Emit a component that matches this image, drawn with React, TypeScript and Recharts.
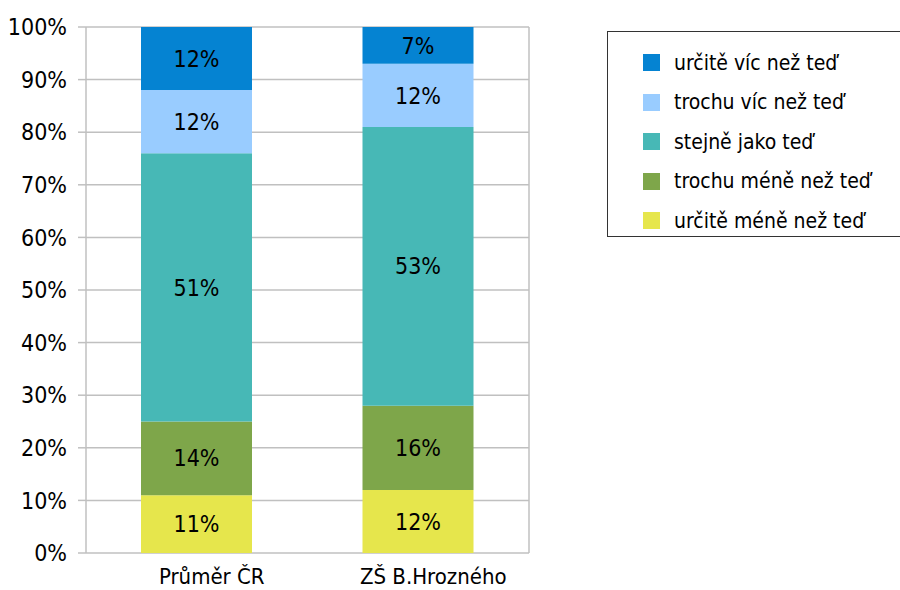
import React from 'react';
import { BarChart, Bar, XAxis, YAxis, CartesianGrid, Legend, LabelList } from 'recharts';

// Kategorie na ose X
const categories = ['Průměr ČR', 'ZŠ B.Hrozného'];

// Hodnoty v procentech, od spodu sloupce nahoru
const urciteMene = [11, 12];
const trochuMene = [14, 16];
const stejne = [51, 53];
const trochuVic = [12, 12];
const urciteVic = [12, 7];

const seriesNames = [
  'určitě méně než teď',
  'trochu méně než teď',
  'stejně jako teď',
  'trochu víc než teď',
  'určitě víc než teď',
];
const seriesKeys = ['urciteMene', 'trochuMene', 'stejne', 'trochuVic', 'urciteVic'];
const COLORS = ['#e6e64c', '#7ea64a', '#47b8b6', '#99ccff', '#0583d2'];

const yTicks = [0, 10, 20, 30, 40, 50, 60, 70, 80, 90, 100];

const data = categories.map((name, i) => ({
  name,
  idx: i + 0.5,
  urciteMene: urciteMene[i],
  trochuMene: trochuMene[i],
  stejne: stejne[i],
  trochuVic: trochuVic[i],
  urciteVic: urciteVic[i],
}));

const FONT = '"DejaVu Sans", sans-serif';
const GRID = '#c0c0c0';

// legenda: horní řada sloupce je nahoře
const LegendBox = () => {
  const order = [4, 3, 2, 1, 0];
  return (
    <div
      style={{
        border: '1px solid #333',
        width: 300,
        height: 206,
        boxSizing: 'border-box',
        paddingTop: 11,
        fontFamily: FONT,
        fontStretch: 'condensed',
        fontSize: 21,
        color: '#000',
      }}
    >
      {order.map((i) => (
        <div key={i} style={{ display: 'flex', alignItems: 'center', height: 39.5, paddingLeft: 35 }}>
          <span style={{ display: 'inline-block', width: 17, height: 17, background: COLORS[i], marginRight: 14 }} />
          <span>{seriesNames[i]}</span>
        </div>
      ))}
    </div>
  );
};

const App: React.FC = () => {
  return (
    <div style={{ position: 'absolute', left: 0, top: 0, background: '#fff' }}>
      <BarChart
        width={900}
        height={590}
        data={data}
        margin={{ top: 27, right: 371, left: 0, bottom: 0 }}
        style={{ fontFamily: FONT, fontStretch: 'condensed' }}
      >
        <XAxis
          xAxisId="grid"
          dataKey="idx"
          type="number"
          domain={[0, categories.length]}
          ticks={[0, 1, 2]}
          tick={false}
          axisLine={false}
          tickLine={{ stroke: GRID, strokeWidth: 1.5 }}
          tickSize={7}
          height={0}
        />
        <XAxis
          dataKey="name"
          height={37}
          axisLine={false}
          tickLine={false}
          tickSize={8}
          tickMargin={7}
          tick={{ fill: '#000', fontSize: 22, dx: 15 }}
        />
        <YAxis
          domain={[0, 100]}
          ticks={yTicks}
          width={86}
          interval={0}
          axisLine={false}
          tickLine={{ stroke: GRID, strokeWidth: 1.5 }}
          tickSize={8}
          tickMargin={11}
          tickFormatter={(v: number) => `${v}%`}
          tick={{ fill: '#000', fontSize: 23 }}
        />
        <CartesianGrid xAxisId="grid" stroke={GRID} strokeWidth={1.5} />
        <Legend
          layout="horizontal"
          verticalAlign="middle"
          align="center"
          content={<LegendBox />}
          wrapperStyle={{ position: 'absolute', left: 607, top: 31, width: 300 }}
        />
        {seriesKeys.map((key, i) => (
          <Bar
            key={key}
            dataKey={key}
            name={seriesNames[i]}
            stackId="a"
            fill={COLORS[i]}
            barSize={111}
            isAnimationActive={false}
          >
            <LabelList
              dataKey={key}
              position="center"
              formatter={(v: any) => `${v}%`}
              fill="#000"
              fontSize={23}
            />
          </Bar>
        ))}
      </BarChart>
    </div>
  );
};

export default App;
